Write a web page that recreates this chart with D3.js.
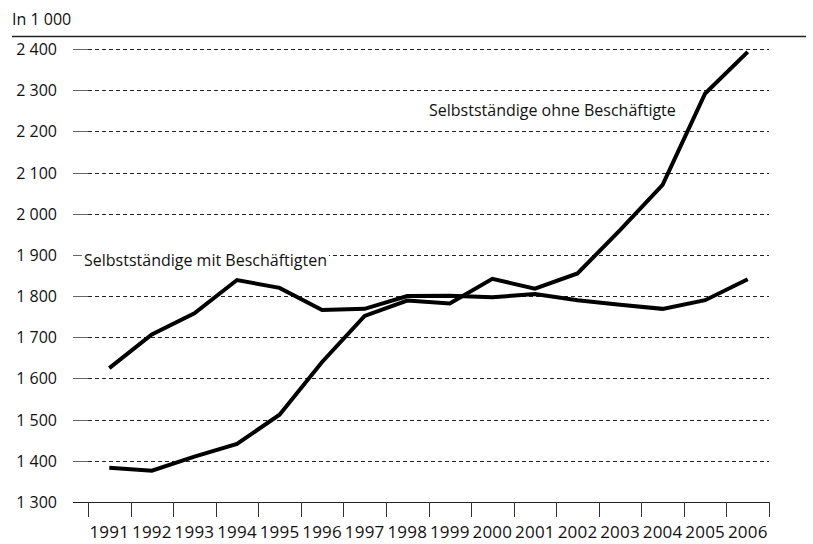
<!DOCTYPE html>
<html>
<head>
<meta charset="utf-8">
<script src="https://cdn.jsdelivr.net/npm/d3@7"></script>
<style>
  body { margin: 0; background: #fff; }
  svg { display: block; font-family: "Open Sans", "Noto Sans", sans-serif; }
</style>
</head>
<body>
<div id="chart"></div>
<script>
const years = ["1991", "1992", "1993", "1994", "1995", "1996", "1997", "1998",
  "1999", "2000", "2001", "2002", "2003", "2004", "2005", "2006"];
const mitBeschaeftigten = [1625, 1707, 1758, 1839, 1820, 1766, 1769, 1800,
  1801, 1797, 1805, 1790, 1779, 1769, 1790, 1841];
const ohneBeschaeftigte = [1383, 1376, 1410, 1441, 1512, 1640, 1752, 1789,
  1782, 1842, 1818, 1855, 1960, 2070, 2292, 2393];
const yTicks = [1300, 1400, 1500, 1600, 1700, 1800, 1900, 2000, 2100, 2200, 2300, 2400];
const unitLabel = "In 1 000";
const seriesLabels = ["Selbstständige mit Beschäftigten", "Selbstständige ohne Beschäftigte"];

const width = 813, height = 544;
const svg = d3.select("#chart").append("svg")
  .attr("width", width)
  .attr("height", height);

const x = d3.scaleBand().domain(years).range([88, 769]);
const y = d3.scaleLinear().domain([1300, 2400]).range([502, 49]);

const fmt = v => d3.format(",")(v).replace(",", " ");

// header
svg.append("text")
  .attr("x", 12).attr("y", 25)
  .attr("font-size", 16)
  .attr("fill", "#111")
  .text(unitLabel);
svg.append("line")
  .attr("x1", 12).attr("x2", 806)
  .attr("y1", 36.5).attr("y2", 36.5)
  .attr("stroke", "#222").attr("stroke-width", 1.3);

// grid
const grid = svg.append("g");
yTicks.forEach(t => {
  const yy = Math.round(y(t)) + 0.5;
  grid.append("line")
    .attr("x1", 73).attr("x2", 88)
    .attr("y1", yy).attr("y2", yy)
    .attr("stroke", t === 1300 ? "#222" : "#666").attr("stroke-width", 1);
  grid.append("line")
    .attr("x1", 88).attr("x2", 769)
    .attr("y1", yy).attr("y2", yy)
    .attr("stroke", "#222").attr("stroke-width", 1)
    .attr("stroke-dasharray", t === 1300 ? null : "4,3");
  grid.append("text")
    .attr("x", 57).attr("y", yy)
    .attr("dy", "0.35em")
    .attr("text-anchor", "end")
    .attr("font-size", 16)
    .attr("fill", "#111")
    .text(fmt(t));
});

// x axis ticks at band boundaries
const xAxis = svg.append("g");
const bounds = years.map(d => x(d)).concat([x.range()[1]]);
bounds.forEach(bx => {
  const xx = Math.round(bx) + 0.5;
  xAxis.append("line")
    .attr("x1", xx).attr("x2", xx)
    .attr("y1", 502).attr("y2", 517)
    .attr("stroke", "#333").attr("stroke-width", 1);
});
years.forEach(d => {
  xAxis.append("text")
    .attr("x", x(d) + x.bandwidth() / 2)
    .attr("y", 538)
    .attr("text-anchor", "middle")
    .attr("font-size", 17)
    .attr("letter-spacing", "0.2px")
    .attr("fill", "#111")
    .text(d);
});

// series labels (white background hides grid)
function label(txt, lx, ly) {
  const g = svg.append("g");
  const t = g.append("text")
    .attr("x", lx).attr("y", ly)
    .attr("font-size", 16)
    .attr("fill", "#111")
    .text(txt);
  const b = t.node().getBBox();
  g.insert("rect", "text")
    .attr("x", b.x - 2).attr("y", b.y)
    .attr("width", b.width + 4).attr("height", b.height)
    .attr("fill", "#fff");
}
label(seriesLabels[0], 84, 266);
label(seriesLabels[1], 429, 116);

// lines
const line = d3.line()
  .x((d, i) => x(years[i]) + x.bandwidth() / 2)
  .y(d => y(d));

[mitBeschaeftigten, ohneBeschaeftigte].forEach(s => {
  svg.append("path")
    .datum(s)
    .attr("d", line)
    .attr("fill", "none")
    .attr("stroke", "#000")
    .attr("stroke-width", 4)
    .attr("stroke-linejoin", "miter");
});
</script>
</body>
</html>
